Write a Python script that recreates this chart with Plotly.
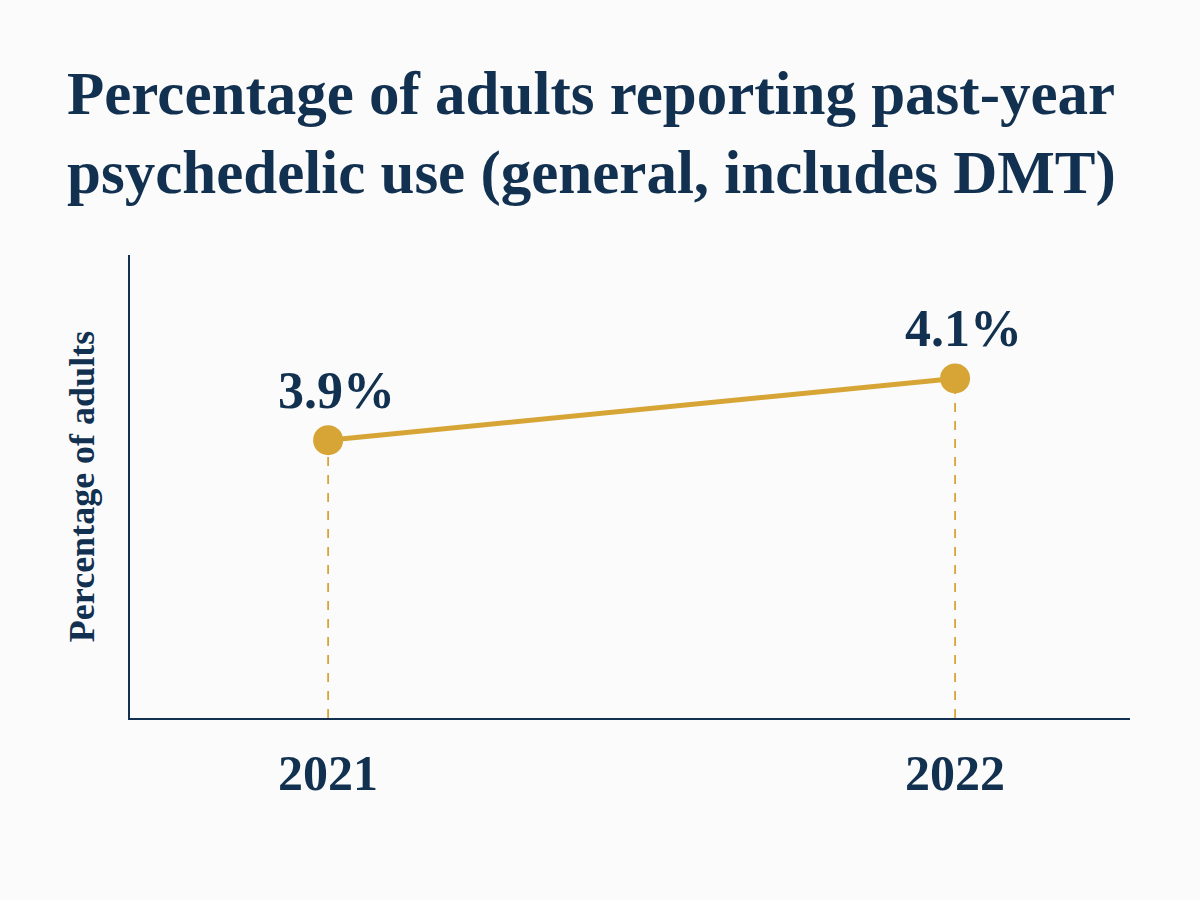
import plotly.graph_objects as go

years = [2021, 2022]
values = [3.9, 4.1]
labels = ["3.9%", "4.1%"]
tick_labels = ["2021", "2022"]
title_text = "Percentage of adults reporting past-year<br>psychedelic use (general, includes DMT)"
y_title = "Percentage of adults"

NAVY = "#12304F"
GOLD = "#D6A536"
SERIF = "Liberation Serif, Times New Roman, serif"

y_min, y_max = 3.0, 4.5

fig = go.Figure()

for yr, v in zip(years, values):
    fig.add_trace(go.Scatter(
        x=[yr, yr], y=[y_min, v], mode="lines",
        line=dict(color=GOLD, width=1.8, dash="dash"),
        hoverinfo="skip", showlegend=False,
    ))

fig.add_trace(go.Scatter(
    x=years, y=values, mode="lines+markers",
    line=dict(color=GOLD, width=5, shape="spline"),
    marker=dict(color=GOLD, size=30),
    showlegend=False,
))

for yr, v, lab in zip(years, values, labels):
    fig.add_annotation(
        x=yr, y=v, text="<b>" + lab + "</b>", showarrow=False,
        xshift=8, yshift=50,
        font=dict(family=SERIF, size=52, color=NAVY),
    )

fig.update_layout(
    width=1200, height=900,
    paper_bgcolor="#FBFBFB", plot_bgcolor="#FBFBFB",
    margin=dict(l=130, r=70, t=255, b=182),
    title=dict(
        text="<b>" + title_text + "</b>",
        x=67 / 1200, xanchor="left",
        y=1 - 114 / 900, yanchor="top", yref="container",
        font=dict(family=SERIF, size=61, color=NAVY),
    ),
)

fig.update_xaxes(
    range=[2020.684, 2022.279],
    tickvals=years, ticktext=["<b>" + t + "</b>" for t in tick_labels],
    showgrid=False, zeroline=False,
    showline=True, linecolor=NAVY, linewidth=2,
    ticks="", ticklabelstandoff=10,
    tickfont=dict(family=SERIF, size=50, color=NAVY),
)
fig.update_yaxes(
    range=[y_min, y_max],
    showticklabels=False, showgrid=False, zeroline=False,
    showline=True, linecolor=NAVY, linewidth=2, ticks="",
    title=dict(text="<b>" + y_title + "</b>", standoff=22,
               font=dict(family=SERIF, size=36, color=NAVY)),
)

fig.write_html("out.html")
